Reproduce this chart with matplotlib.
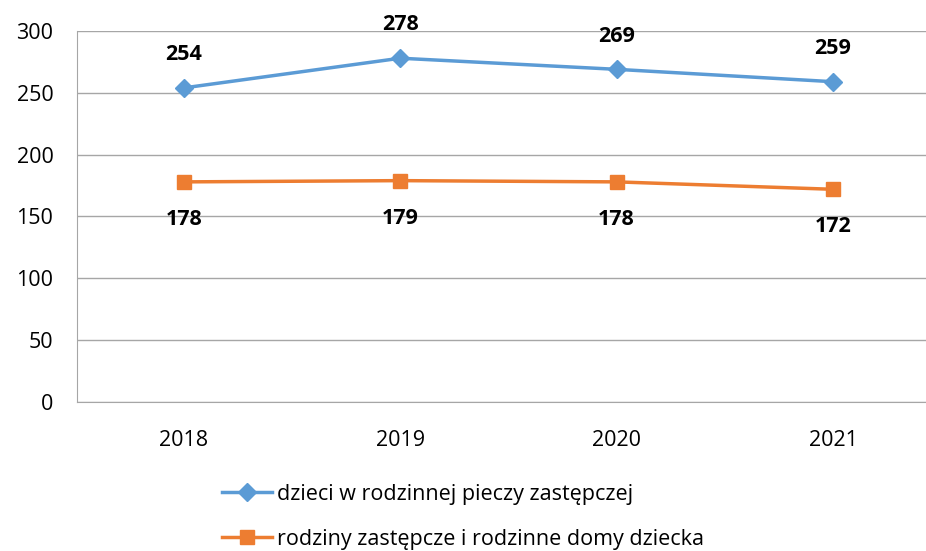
from matplotlib import pyplot as plt
import numpy as np

years = ["2018", "2019", "2020", "2021"]
dzieci = [254, 278, 269, 259]
rodziny = [178, 179, 178, 172]
labels = ["dzieci w rodzinnej pieczy zastępczej",
          "rodziny zastępcze i rodzinne domy dziecka"]

plt.rcParams['font.family'] = ['Open Sans', 'DejaVu Sans']

fig = plt.figure(figsize=(9.26, 5.51), dpi=100)
ax = fig.add_axes([77/926, 1-402/551, 1-77/926, (402-31)/551])

x = np.arange(len(years))
blue = '#5B9BD5'
orange = '#ED7D31'
ax.plot(x, dzieci, color=blue, lw=2.5, marker='D', ms=9, label=labels[0], zorder=3)
ax.plot(x, rodziny, color=orange, lw=2.5, marker='s', ms=10, label=labels[1], zorder=3)

for i, v in enumerate(dzieci):
    ax.annotate(str(v), (x[i], v), xytext=(0, 24), textcoords='offset points',
                ha='center', va='center', fontsize=15.5, fontweight='bold')
for i, v in enumerate(rodziny):
    ax.annotate(str(v), (x[i], v), xytext=(0, -27), textcoords='offset points',
                ha='center', va='center', fontsize=15.5, fontweight='bold')

ax.set_ylim(0, 300)
ax.set_yticks(np.arange(0, 301, 50))
ax.set_xlim(-0.494, 3.43)
ax.set_xticks(x)
ax.set_xticklabels(years)
ax.grid(axis='y', color='#A6A6A6', lw=1)
ax.set_axisbelow(True)
for s in ['top', 'right']:
    ax.spines[s].set_visible(False)
ax.spines['left'].set_color('#A6A6A6')
ax.spines['bottom'].set_color('#A6A6A6')
ax.tick_params(axis='y', length=0, pad=17, labelsize=15.5)
ax.tick_params(axis='x', length=0, pad=20, labelsize=15.5)

fig.legend(loc='upper left', bbox_to_anchor=(222/926, 1-484/551), frameon=False,
           fontsize=15.5, handlelength=2.3, handletextpad=0.25, labelspacing=1.1,
           borderpad=0, borderaxespad=0)

plt.savefig("out.png", dpi=100)
plt.close()
